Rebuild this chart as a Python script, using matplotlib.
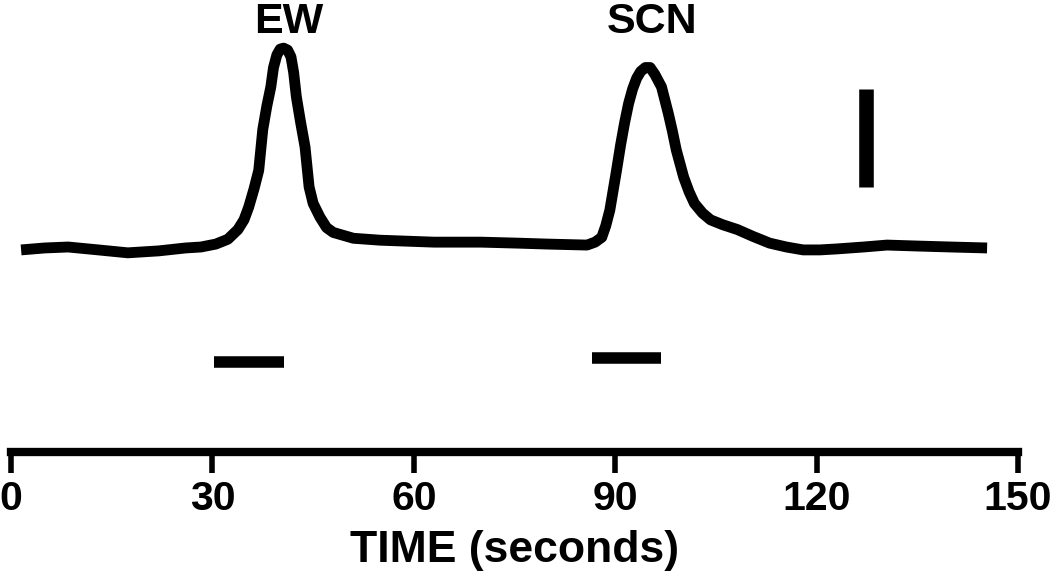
import matplotlib
matplotlib.use("Agg")
import matplotlib.pyplot as plt

plt.rcParams["font.family"] = ["Liberation Sans", "DejaVu Sans"]
plt.rcParams["font.weight"] = "bold"

# trace: time (s) and response (arbitrary units, scale bar = 1 unit)
time_s = [1.5, 5.0, 8.5, 13.0, 17.4, 22.0, 26.0, 28.3, 30.5, 32.3, 33.8, 34.7,
          35.4, 36.2, 36.9, 37.2, 37.5, 38.1, 38.7, 39.1, 39.6, 40.1, 40.6,
          41.2, 41.7, 42.1, 42.5, 43.1, 43.8, 44.4, 45.0, 46.0, 47.0, 48.0,
          51.0, 55.0, 63.0, 70.0, 75.4, 80.0, 85.8, 87.0, 88.0, 88.6, 89.2,
          90.2, 90.8, 91.4, 92.0, 92.6, 93.2, 93.8, 94.5, 95.2, 95.9, 96.9,
          97.9, 98.5, 99.1, 100.2, 101.0, 101.8, 103.0, 104.2, 106.0, 108.2,
          110.5, 113.0, 115.5, 118.0, 120.5, 123.0, 127.0, 130.5, 135.0,
          140.0, 145.4]
response = [-0.03, -0.01, 0.00, -0.03, -0.06, -0.04, -0.01, 0.00, 0.03, 0.08, 0.18, 0.28,
            0.41, 0.60, 0.79, 1.00, 1.21, 1.45, 1.65, 1.85, 1.98, 2.04, 2.05,
            2.03, 1.96, 1.80, 1.55, 1.30, 1.03, 0.62, 0.45, 0.31, 0.20, 0.15,
            0.09, 0.07, 0.05, 0.05, 0.04, 0.03, 0.02, 0.05, 0.10, 0.22, 0.38,
            0.79, 1.05, 1.28, 1.48, 1.63, 1.74, 1.81, 1.85, 1.85, 1.78, 1.65,
            1.38, 1.20, 1.00, 0.72, 0.57, 0.45, 0.35, 0.28, 0.23, 0.18,
            0.11, 0.04, 0.00, -0.03, -0.03, -0.02, 0.00, 0.02, 0.01,
            0.00, -0.01]

# stimulus bars: (start, end, level)
stim_start = [30.3, 86.5]
stim_end = [40.7, 96.8]
stim_level = [-1.19, -1.14]

stim_names = ["EW", "SCN"]
stim_label_x = [41.3, 95.5]
label_level = 2.21

scale_x = 127.4
scale_y = [0.62, 1.63]

xticks = [0, 30, 60, 90, 120, 150]

fig = plt.figure(figsize=(10.5, 5.78), dpi=100)
ax = fig.add_axes([0.0105, 0.218, 0.959, 0.782])

ax.plot(time_s, response, color="black", linewidth=7.8, solid_capstyle="butt",
        solid_joinstyle="round", clip_on=False)

for s, e, lv in zip(stim_start, stim_end, stim_level):
    ax.plot([s, e], [lv, lv], color="black", linewidth=8.3, solid_capstyle="butt")

ax.plot([scale_x, scale_x], scale_y, color="black", linewidth=10.5, solid_capstyle="butt")

for name, x in zip(stim_names, stim_label_x):
    ax.text(x, label_level, name, ha="center", va="baseline", fontsize=31, fontweight="bold")

ax.set_xlim(0, 150)
ax.set_ylim(-2.113, 2.546)
ax.set_xticks(xticks)
ax.set_xticklabels([str(t) for t in xticks], fontsize=29.5, fontweight="bold")
ax.tick_params(axis="x", length=15, width=4, pad=5, direction="out")
ax.set_yticks([])

for side in ["left", "right", "top"]:
    ax.spines[side].set_visible(False)
ax.spines["bottom"].set_linewidth(6)

ax.set_xlabel("TIME (seconds)", fontsize=32, fontweight="bold", labelpad=9)
ax.patch.set_alpha(0)

fig.savefig("out.png", dpi=100)
